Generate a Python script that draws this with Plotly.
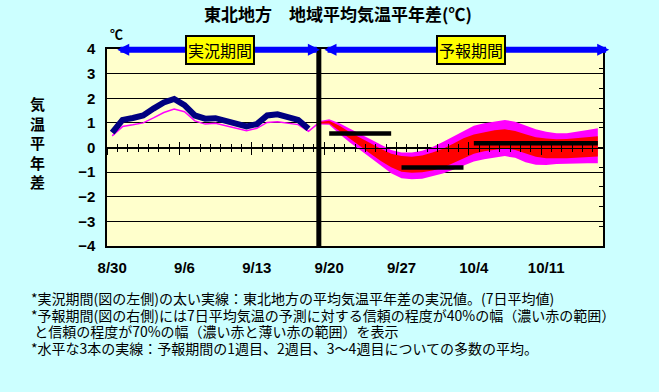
import plotly.graph_objects as go

# ---------------- data ----------------
tick_days = [0, 7, 14, 21, 28, 35, 42]
tick_labels = ["8/30", "9/6", "9/13", "9/20", "9/27", "10/4", "10/11"]

# observed 7-day mean anomaly (thick navy line), day index from 8/30
obs_days = list(range(0, 20))
obs_values = [0.60, 1.12, 1.20, 1.30, 1.58, 1.83, 1.97, 1.72, 1.30, 1.17,
              1.19, 1.08, 1.00, 0.86, 0.95, 1.30, 1.35, 1.25, 1.12, 0.76]

# thin magenta line
pink_days = list(range(0, 21))
pink_values = [0.47, 0.85, 0.92, 1.00, 1.20, 1.42, 1.56, 1.45, 1.08, 0.95,
               0.98, 0.88, 0.80, 0.68, 0.78, 1.02, 1.05, 1.00, 0.93, 0.66, 1.00]

# forecast bands
fc_days = list(range(20, 48))
band70_upper = [1.07, 1.15, 0.98, 0.78, 0.55, 0.33, 0.10, -0.10, -0.20, -0.20,
                -0.13, 0.02, 0.22, 0.45, 0.68, 0.88, 0.98, 1.06, 1.12, 1.05,
                0.90, 0.74, 0.64, 0.58, 0.58, 0.63, 0.71, 0.78]
band70_lower = [0.93, 0.92, 0.55, 0.20, -0.10, -0.42, -0.75, -1.05, -1.25, -1.29,
                -1.27, -1.18, -1.06, -0.90, -0.72, -0.57, -0.48, -0.40, -0.35, -0.42,
                -0.60, -0.70, -0.71, -0.67, -0.65, -0.64, -0.64, -0.64]
band40_upper = [1.03, 1.09, 0.88, 0.62, 0.40, 0.17, -0.05, -0.25, -0.35, -0.38,
                -0.32, -0.20, -0.05, 0.15, 0.38, 0.53, 0.63, 0.70, 0.74, 0.67,
                0.54, 0.42, 0.37, 0.34, 0.35, 0.39, 0.43, 0.46]
band40_lower = [0.97, 0.97, 0.65, 0.35, 0.05, -0.25, -0.55, -0.80, -0.98, -1.03,
                -1.00, -0.93, -0.82, -0.65, -0.45, -0.25, -0.15, -0.08, -0.04, -0.10,
                -0.25, -0.38, -0.44, -0.44, -0.44, -0.43, -0.40, -0.37]

# ensemble mean for week 1, week 2, weeks 3-4
week_start = [21, 28, 35]
week_end = [27, 34, 47]
week_mean = [0.57, -0.81, 0.17]

divider_day = 20  # boundary between observed and forecast periods

# ---------------- figure ----------------
BG = "#CCFFFF"
PLOT_BG = "#FFFFCC"
JP = "Noto Sans CJK JP"
NUM = "Liberation Sans"

fig = go.Figure()

fig.add_trace(go.Scatter(
    x=fc_days + fc_days[::-1], y=band70_upper + band70_lower[::-1],
    fill="toself", fillcolor="#FF00FF", mode="lines", line=dict(width=0),
    hoverinfo="skip", showlegend=False))
fig.add_trace(go.Scatter(
    x=fc_days + fc_days[::-1], y=band40_upper + band40_lower[::-1],
    fill="toself", fillcolor="#FF0000", mode="lines", line=dict(width=0),
    hoverinfo="skip", showlegend=False))
fig.add_trace(go.Scatter(
    x=pink_days, y=pink_values, mode="lines",
    line=dict(color="#FF00FF", width=1.5), showlegend=False))
fig.add_trace(go.Scatter(
    x=obs_days, y=obs_values, mode="lines",
    line=dict(color="#000080", width=6), showlegend=False))

bx, by = [], []
for s, e, v in zip(week_start, week_end, week_mean):
    bx += [s, e, None]
    by += [v, v, None]
fig.add_trace(go.Scatter(x=bx, y=by, mode="lines",
                         line=dict(color="black", width=4.5), showlegend=False))

# dummy traces so overlay axes get drawn
fig.add_trace(go.Scatter(x=[0], y=[0], xaxis="x2", mode="markers",
                         marker=dict(opacity=0), hoverinfo="skip", showlegend=False))
fig.add_trace(go.Scatter(x=[0], y=[0], xaxis="x3", mode="markers",
                         marker=dict(opacity=0), hoverinfo="skip", showlegend=False))
fig.add_trace(go.Scatter(x=[0], y=[0], yaxis="y2", mode="markers",
                         marker=dict(opacity=0), hoverinfo="skip", showlegend=False))

XR = [-0.5, 47.5]
minor_ticks = [d - 0.5 for d in range(1, 48)]
major_ticks = [d - 0.5 for d in tick_days]

fig.update_layout(
    width=659, height=392,
    margin=dict(l=107, r=56, t=49, b=146),
    paper_bgcolor=BG, plot_bgcolor=PLOT_BG,
    font=dict(family=JP, color="black"),
    title=dict(text="東北地方　地域平均気温平年差(℃)", x=338 / 659, xref="container",
               xanchor="center", y=1 - 15 / 392, yanchor="middle",
               font=dict(family=JP, size=17, weight="bold", color="black")),
    xaxis=dict(range=XR, tickmode="array", tickvals=tick_days, ticktext=tick_labels,
               ticks="", showgrid=False, zeroline=False,
               showline=True, mirror=True, linecolor="black", linewidth=1.5,
               ticklabelstandoff=7,
               tickfont=dict(family=NUM, size=15, weight="bold", color="black")),
    xaxis2=dict(range=XR, overlaying="x", anchor="free", position=0.5,
                tickmode="array", tickvals=major_ticks, ticks="outside", ticklen=6,
                tickwidth=1, tickcolor="black",
                minor=dict(tickmode="array", tickvals=minor_ticks, ticks="outside",
                           ticklen=3.5, tickwidth=1, tickcolor="black"),
                showticklabels=False, showgrid=False, zeroline=False,
                showline=True, linecolor="black", linewidth=1.2),
    xaxis3=dict(range=XR, overlaying="x", anchor="free", position=0.5,
                tickmode="array", tickvals=major_ticks, ticks="inside", ticklen=6,
                tickwidth=1, tickcolor="black",
                minor=dict(tickmode="array", tickvals=minor_ticks, ticks="inside",
                           ticklen=3.5, tickwidth=1, tickcolor="black"),
                showticklabels=False, showgrid=False, zeroline=False, showline=False),
    yaxis=dict(range=[-4, 4], dtick=1, tick0=0, showgrid=True, gridcolor="black",
               gridwidth=1, zeroline=False, showline=True, mirror=True,
               linecolor="black", linewidth=1.5, ticks="", ticklabelstandoff=7,
               tickfont=dict(family=NUM, size=15, weight="bold", color="black")),
    yaxis2=dict(range=[0, 10], dtick=1, overlaying="y", side="right", anchor="x",
                ticks="inside", ticklen=4, tickcolor="black", tickwidth=1,
                showticklabels=False, showgrid=False, zeroline=False,
                showline=True, linecolor="black", linewidth=1.5),
)

fig.add_shape(type="line", xref="x", yref="paper", x0=divider_day, x1=divider_day,
              y0=-0.01, y1=1.0, line=dict(color="black", width=5))

arrow_common = dict(xref="x", yref="y", axref="x", ayref="y", text="",
                    showarrow=True, arrowhead=2, startarrowhead=2,
                    arrowside="end+start", arrowsize=0.4, startarrowsize=0.4,
                    arrowwidth=6, arrowcolor="#0000FF", standoff=0, startstandoff=0)
fig.add_annotation(x=20.1, y=3.97, ax=0.35, ay=3.97, **arrow_common)
fig.add_annotation(x=48.1, y=3.97, ax=20.4, ay=3.97, **arrow_common)

box_common = dict(xref="x", yref="y", y=3.97, showarrow=False,
                  xanchor="center", yanchor="middle",
                  bgcolor="#FFFF00", bordercolor="black", borderwidth=2, borderpad=1,
                  font=dict(family=JP, size=16, color="black"))
fig.add_annotation(x=10.4, text="実況期間", **box_common)
fig.add_annotation(x=34.7, text="予報期間", **box_common)


def px_x(px):
    return (px - 107) / 496


def px_y(py):
    return (246 - py) / 197


fig.add_annotation(xref="paper", yref="paper", x=px_x(116), y=px_y(33),
                   xanchor="center", yanchor="middle",
                   text="℃", showarrow=False,
                   font=dict(family=JP, size=13, weight="bold", color="black"))
fig.add_annotation(xref="paper", yref="paper", x=px_x(37), y=px_y(142),
                   xanchor="center", yanchor="middle",
                   text="気<br>温<br>平<br>年<br>差", showarrow=False,
                   font=dict(family=JP, size=15, weight="bold", color="black"))

notes = [
    "*実況期間(図の左側)の太い実線：東北地方の平均気温平年差の実況値。(7日平均値)",
    "*予報期間(図の右側)には7日平均気温の予測に対する信頼の程度が40%の幅（濃い赤の範囲）",
    "\u00a0と信頼の程度が70%の幅（濃い赤と薄い赤の範囲）を表示",
    "*水平な3本の実線：予報期間の1週目、2週目、3～4週目についての多数の平均。",
]
note_y = [298, 314.5, 331, 347.5]
for txt, yy in zip(notes, note_y):
    fig.add_annotation(xref="paper", yref="paper", x=px_x(29), y=px_y(yy),
                       xanchor="left", yanchor="middle", align="left",
                       text=txt, showarrow=False,
                       font=dict(family=JP, size=14, color="black"))

fig.write_html("out.html", config={"displayModeBar": False},
               post_script="document.body.style.margin='0';")
